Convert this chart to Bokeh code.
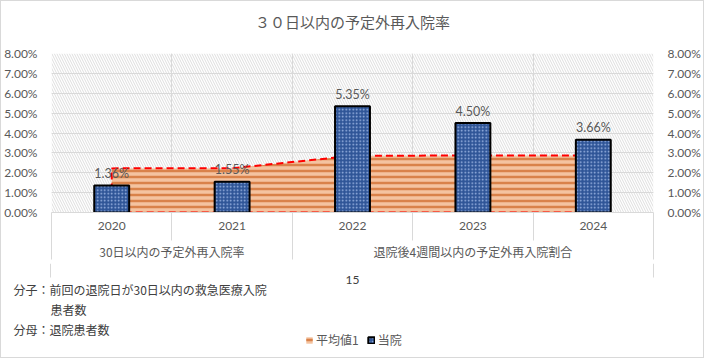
from bokeh.plotting import figure
from bokeh.layouts import column
from bokeh.models import (ColumnDataSource, Range1d, LinearAxis, FixedTicker, NumeralTickFormatter,
                          LabelSet, Label, Legend, LegendItem, Grid)
from bokeh.core.properties import value
from bokeh.embed import file_html
from bokeh.resources import INLINE

# ---------------- data ----------------
years = ["2020", "2021", "2022", "2023", "2024"]
groups = ["30日以内の予定外再入院率", "退院後4週間以内の予定外再入院割合"]
group_sizes = [2, 3]
hospital = [0.0136, 0.0155, 0.0535, 0.0450, 0.0366]   # 当院
average = [0.0222, 0.0223, 0.0285, 0.0287, 0.0287]    # 平均値1
y_ticks = [0.0, 0.01, 0.02, 0.03, 0.04, 0.05, 0.06, 0.07, 0.08]
title_text = "３０日以内の予定外再入院率"
axis_title = "15"
series_names = ["平均値1", "当院"]
note_lines = ["分子：前回の退院日が30日以内の救急医療入院", "患者数", "分母：退院患者数"]

# ---------------- layout constants ----------------
W = 702
H0, H1, H2 = 40, 222, 94
BL, BR, BT, BB = 49, 50, 12, 51
GRAY = "#595959"
LINE = "#d9d9d9"
JP = "Noto Sans CJK JP"
NUM = "Lato"
AREA_STYLE = dict(fill_color="#f4c3a0", hatch_pattern="horizontal_line", hatch_color="#d9824a",
                  hatch_scale=6, hatch_weight=2.5)
BAR_STYLE = dict(fill_color="#2f5597", line_color="black", line_width=2, hatch_pattern="dot",
                 hatch_color="#a3bbe8", hatch_scale=3.5, hatch_weight=2)

n = len(years)
xc = [i + 0.5 for i in range(n)]
bounds = list(range(n + 1))
group_centers, group_bounds = [], [0]
acc = 0
for s in group_sizes:
    group_centers.append(acc + s / 2)
    acc += s
    group_bounds.append(acc)


def blank_fig(h, xr, yr):
    f = figure(width=W, height=h, x_range=xr, y_range=yr, x_axis_location=None,
               y_axis_location=None, toolbar_location=None, output_backend="svg", min_border=0)
    f.outline_line_color = None
    f.background_fill_color = "white"
    f.border_fill_color = "white"
    f.frame_align = False
    f.xgrid.visible = False
    f.ygrid.visible = False
    return f


# ================= title strip =================
p0 = blank_fig(H0, Range1d(0, W), Range1d(0, H0))
p0.add_layout(Label(x=351, y=20, x_units="screen", y_units="screen", text=title_text,
                    text_align="center", text_baseline="middle", text_font=JP,
                    text_font_size="15px", text_color=GRAY))

# ================= main chart =================
p = figure(width=W, height=H1, x_range=Range1d(0, n), y_range=Range1d(0, y_ticks[-1]),
           x_axis_location=None, y_axis_location=None, toolbar_location=None,
           output_backend="svg", min_border_left=BL, min_border_right=BR,
           min_border_top=BT, min_border_bottom=BB)
p.outline_line_color = None
p.background_fill_color = "white"
p.border_fill_color = "white"
p.frame_align = False

# hatched plot background
p.quad(left=[0], right=[n], bottom=[y_ticks[0]], top=[y_ticks[-1]], fill_color="white",
       line_color=None, hatch_pattern="left_diagonal_line", hatch_color="#dedede",
       hatch_scale=5, hatch_weight=1, level="image")

# grids
p.add_layout(Grid(dimension=0, ticker=FixedTicker(ticks=bounds), grid_line_color=LINE))
p.add_layout(Grid(dimension=1, ticker=FixedTicker(ticks=y_ticks), grid_line_color=LINE))

# average area
src_a = ColumnDataSource(dict(x=xc, y=average))
p.varea(x="x", y1=0, y2="y", source=src_a, **AREA_STYLE)
ox = [xc[0]] + xc + [xc[-1], xc[0]]
oy = [0] + average + [0, 0]
p.line(ox, oy, line_color="#ff0000", line_width=2, line_dash="7 4")

# hospital bars
labels = [f"{v * 100:.2f}%" for v in hospital]
src_b = ColumnDataSource(dict(x=xc, top=hospital, label=labels))
p.vbar(x="x", top="top", width=0.29, source=src_b, **BAR_STYLE)
p.add_layout(LabelSet(x="x", y="top", text="label", source=src_b, y_offset=12,
                      text_align="center", text_baseline="middle",
                      text_font=value(NUM), text_font_size="12.5px", text_color=GRAY))

# y axes
for side in ("left", "right"):
    ax = LinearAxis(ticker=FixedTicker(ticks=y_ticks), formatter=NumeralTickFormatter(format="0.00%"),
                    axis_line_color=None, major_tick_line_color=None, minor_tick_line_color=None,
                    major_label_text_font=NUM, major_label_text_font_size="12px",
                    major_label_text_color=GRAY, major_label_standoff=8)
    p.add_layout(ax, side)

# x axis: years (minor ticks = separators)
ax1 = LinearAxis(ticker=FixedTicker(ticks=xc, minor_ticks=bounds),
                 major_label_overrides={x: y for x, y in zip(xc, years)},
                 axis_line_color=LINE, major_tick_line_color=None,
                 minor_tick_line_color=LINE, minor_tick_in=0, minor_tick_out=28,
                 major_label_text_font=NUM, major_label_text_font_size="12px",
                 major_label_text_color=GRAY, major_label_standoff=-19)
p.add_layout(ax1, "below")

# x axis: groups
ax2 = LinearAxis(ticker=FixedTicker(ticks=group_centers, minor_ticks=group_bounds),
                 major_label_overrides={x: g for x, g in zip(group_centers, groups)},
                 axis_line_color=None, major_tick_line_color=None,
                 minor_tick_line_color=LINE, minor_tick_in=0, minor_tick_out=27,
                 major_label_text_font=JP, major_label_text_font_size="12px",
                 major_label_text_color=GRAY, major_label_standoff=-17)
p.add_layout(ax2, "below")

# ================= footer (notes + legend) =================
unit = (W - BL - BR) / n
p2 = blank_fig(H2, Range1d(-BL / unit, n + BR / unit), Range1d(0, H2))
p2.extra_y_ranges = {"off": Range1d(-20, -10)}

# outer frame lines continuing below the category axis
p2.segment(x0=[bounds[0], bounds[-1]], x1=[bounds[0], bounds[-1]], y0=[H2, H2], y1=[H2 - 14, H2 - 14],
           line_color=LINE, line_width=1)

p2.add_layout(Label(x=351, y=H2 - 16, x_units="screen", y_units="screen",
                    text=axis_title, text_align="center", text_baseline="middle",
                    text_font=NUM, text_font_size="12px", text_color="#404040"))

note_pos = [(12, H2 - 26), (49, H2 - 46), (12, H2 - 66)]
for (nx, ny), t in zip(note_pos, note_lines):
    p2.add_layout(Label(x=nx, y=ny, x_units="screen", y_units="screen", text=t,
                        text_align="left", text_baseline="middle", text_font=JP,
                        text_font_size="12px", text_color="#404040"))

# legend: hidden proxies of the two series (legend still draws their swatches)
leg_area = p2.varea(x="x", y1=0, y2="y", source=src_a, y_range_name="off", visible=False,
                    **AREA_STYLE)
leg_bar = p2.vbar(x="x", top="top", width=0.29, source=src_b, y_range_name="off", visible=False,
                  **BAR_STYLE)
legend = Legend(items=[LegendItem(label=series_names[0], renderers=[leg_area]),
                       LegendItem(label=series_names[1], renderers=[leg_bar])],
                location=(304, 9), orientation="horizontal",
                glyph_width=8, glyph_height=8, label_height=14,
                label_text_font=JP, label_text_font_size="12px", label_text_color=GRAY,
                border_line_color=None, background_fill_alpha=0, padding=0, margin=0,
                spacing=8, label_standoff=3)
p2.add_layout(legend)

layout = column(p0, p, p2, spacing=0)
layout.styles = {"border": "1px solid #d9d9d9"}

open("out.html", "w").write(file_html(layout, INLINE))
